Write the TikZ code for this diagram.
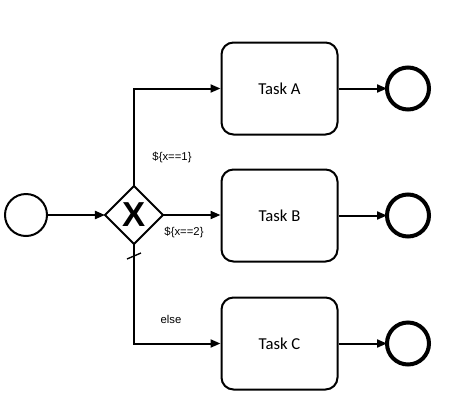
\documentclass[tikz,border=0pt]{standalone}
\usepackage{fontspec}
\setmainfont{Carlito}
\newfontfamily\labfont{Liberation Sans}
\usetikzlibrary{arrows.meta,shapes.geometric,calc}
\begin{document}
\begin{tikzpicture}[x=0.75pt,y=-0.75pt,
  flow/.style={line width=1.5pt,-{Triangle[length=7.5pt,width=6pt]}},
  startev/.style={circle,draw,line width=1.5pt,minimum size=31.5pt,inner sep=0pt,outer sep=0pt},
  endev/.style={circle,draw,line width=3pt,minimum size=31.5pt,inner sep=0pt,outer sep=0pt},
  taskbox/.style={rectangle,rounded corners=9pt,draw,line width=1.5pt,minimum width=87pt,minimum height=69pt,inner sep=0pt,font=\fontsize{12.5}{14}\selectfont},
  gw/.style={diamond,draw,line width=1.5pt,minimum width=43.5pt,minimum height=43.5pt,inner sep=0pt,outer sep=0pt,font=\labfont\bfseries\fontsize{26}{26}\selectfont},
  lbl/.style={font=\labfont\fontsize{8.5}{10}\selectfont,inner sep=0pt}]
\useasboundingbox (0,0) rectangle (450,401);
\node[startev] (s) at (26,215) {};
\node[gw] (g) at (134,215) {X};
\node[taskbox] (a) at (279.5,88.5) {Task A};
\node[taskbox] (b) at (279.5,215.5) {Task B};
\node[taskbox] (c) at (279.5,343.5) {Task C};
\node[endev] (ea) at (408,88.5) {};
\node[endev] (eb) at (408,215.5) {};
\node[endev] (ec) at (408,343.5) {};
\draw[flow] (s) -- (g);
\draw[flow] (g.north) |- (a.west);
\draw[flow] (g.east) -- (g.east -| b.west);
\draw[flow] (g.south) |- (c.west);
\draw[flow] (a) -- (ea);
\draw[flow] (b) -- (eb);
\draw[flow] (c) -- (ec);
\coordinate (t) at ($(g.south)+(0,12)$);
\draw[line width=1pt] ($(t)+(-7,3)$) -- ($(t)+(7,-3)$);
\node[lbl] (l1) at (172,157) {\$\{x==1\}};
\node[lbl] (l2) at (184,232) {\$\{x==2\}};
\node[lbl] (l3) at (171,319) {else};
\end{tikzpicture}
\end{document}
